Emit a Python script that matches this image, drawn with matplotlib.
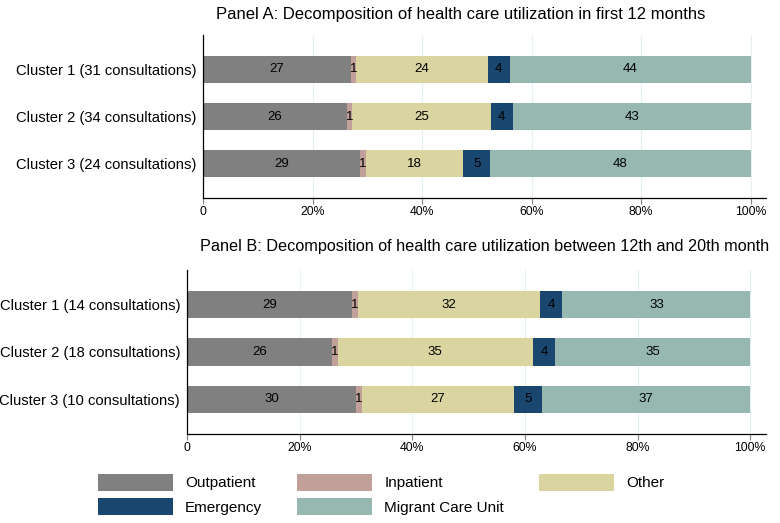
import numpy as np
import matplotlib
matplotlib.use("Agg")
import matplotlib.pyplot as plt
from matplotlib.patches import Patch

plt.rcParams['font.family'] = ['Liberation Sans', 'DejaVu Sans']

categories = ['Outpatient', 'Inpatient', 'Other', 'Emergency', 'Migrant Care Unit']
colors = ['#808080', '#c0a098', '#d9d4a0', '#1a476f', '#97b8b0']

# Panel A: first 12 months (percent)
labels_a = ['Cluster 1 (31 consultations)', 'Cluster 2 (34 consultations)',
            'Cluster 3 (24 consultations)']
vals_a = np.array([[27, 1, 24, 4, 44],
                   [26, 1, 25, 4, 43],
                   [29, 1, 18, 5, 48]], dtype=float)

# Panel B: between 12th and 20th month (percent)
labels_b = ['Cluster 1 (14 consultations)', 'Cluster 2 (18 consultations)',
            'Cluster 3 (10 consultations)']
vals_b = np.array([[29, 1, 32, 4, 33],
                   [26, 1, 35, 4, 35],
                   [30, 1, 27, 5, 37]], dtype=float)

titles = ['Panel A: Decomposition of health care utilization in first 12 months',
          'Panel B: Decomposition of health care utilization between 12th and 20th month']

fig = plt.figure(figsize=(7.8, 5.23), dpi=100)
W, H = 780, 523


def px_axes(l, t, r, b):
    return fig.add_axes([l / W, 1 - b / H, (r - l) / W, (b - t) / H])


ax_a = px_axes(203, 35, 766, 198)
ax_b = px_axes(187, 270, 766, 434)


def draw_panel(ax, vals, labels):
    # rounded shares do not always add to 100, bars are scaled to full width
    widths = vals / vals.sum(axis=1, keepdims=True) * 100
    y = np.arange(1, len(labels) + 1)
    left = np.zeros(len(labels))
    for j, cat in enumerate(categories):
        ax.barh(y, widths[:, j], left=left, height=0.574, color=colors[j],
                label=cat, zorder=2)
        for i in range(len(labels)):
            ax.text(left[i] + widths[i, j] / 2, y[i], '%d' % vals[i, j],
                    ha='center', va='center', fontsize=9.5, color='black', zorder=3)
        left += widths[:, j]
    ax.set_yticks(y)
    ax.set_yticklabels(labels, fontsize=10.6)
    ax.set_ylim(3.734, 0.266)
    ax.set_xlim(0, 102.8)
    ax.set_xticks([0, 20, 40, 60, 80, 100])
    ax.set_xticklabels(['0', '20%', '40%', '60%', '80%', '100%'], fontsize=8.8)
    ax.tick_params(axis='y', length=0, pad=5)
    ax.tick_params(axis='x', length=4, color='#808080', pad=2)
    ax.grid(axis='x', color='#e6eff1', linewidth=0.8, zorder=0)
    ax.set_axisbelow(True)
    for s in ['top', 'right']:
        ax.spines[s].set_visible(False)
    for s in ['left', 'bottom']:
        ax.spines[s].set_color('black')
        ax.spines[s].set_linewidth(0.9)


draw_panel(ax_a, vals_a, labels_a)
draw_panel(ax_b, vals_b, labels_b)

fig.text(461 / W, 1 - 14 / H, titles[0], ha='center', va='center', fontsize=12)
fig.text(485 / W, 1 - 246 / H, titles[1], ha='center', va='center', fontsize=11.7)

# legend filled row by row: Outpatient, Inpatient, Other / Emergency, Migrant Care Unit
order = [0, 3, 1, 4, 2]
handles = [Patch(facecolor=colors[k], edgecolor='none') for k in order]
fig.legend(handles, [categories[k] for k in order], loc='upper left', ncol=3,
           bbox_to_anchor=(98 / W, 1 - 474 / H), frameon=False, fontsize=11,
           handlelength=4.9, handleheight=1.3, handletextpad=0.8,
           columnspacing=2.3, labelspacing=0.5, borderpad=0, borderaxespad=0)

fig.savefig('out.png', dpi=100)
